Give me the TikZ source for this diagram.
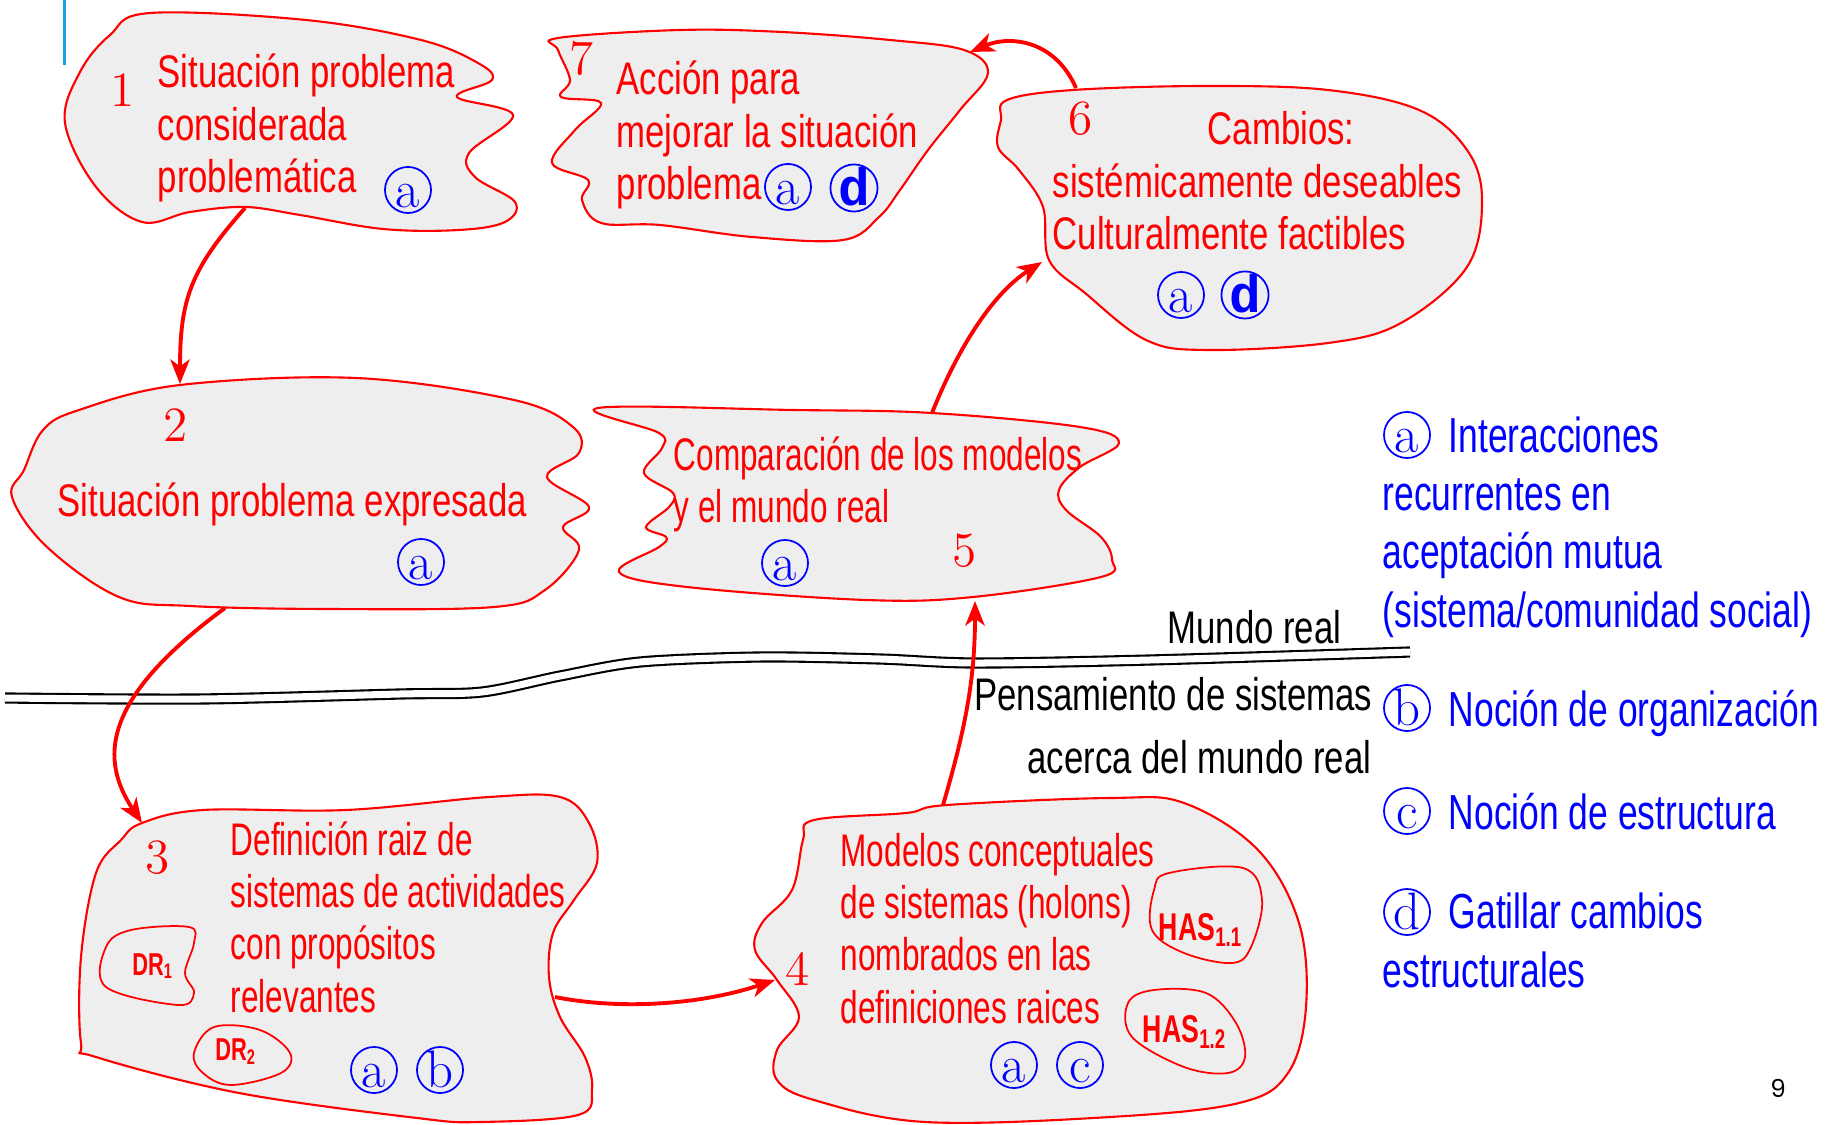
\documentclass[tikz,border=0pt]{standalone}
\usepackage{fontspec}
\newfontfamily\hand[FakeStretch=0.76]{Liberation Sans}
\newfontfamily\handnarrow[FakeStretch=0.69]{Liberation Sans}
\newfontfamily\legendfont[FakeStretch=0.72]{Liberation Sans}
\newfontfamily\monod{Liberation Mono}
\newfontfamily\pagefont{Poppins}
\usetikzlibrary{arrows.meta}
\definecolor{blobgray}{HTML}{EEEEEE}
\definecolor{barblue}{RGB}{27,161,226}

\begin{document}
\begin{tikzpicture}[x=0.01cm, y=-0.01cm,
    blob/.style = {draw=red, fill=blobgray, line width=0.6pt},
    subblob/.style = {draw=red, line width=0.5pt},
    txt/.style = {text=red, font=\fontsize{13}{15}\hand, align=left, inner sep=0pt, anchor=base west},
    txtn/.style = {txt, font=\fontsize{13}{14.8}\handnarrow},
    num/.style = {text=red, font=\fontsize{14}{14}\selectfont, inner sep=0pt, anchor=base},
    circ/.style = {circle, draw=blue, text=blue, line width=0.5pt, inner sep=0pt, minimum size=0.46cm,
                   text height=10pt, text depth=0pt, font=\fontsize{15}{15}\selectfont},
    tag/.style = {text=red, inner sep=0pt, font=\fontsize{#1}{#1}\handnarrow\bfseries},
    flow/.style = {red, line width=1.1pt, -{Stealth[length=7pt, width=5.5pt, inset=2pt]}},
    realm/.style = {font=\fontsize{13}{15}\hand, inner sep=0pt, anchor=base east},
    legend/.style = {text=blue, font=\fontsize{14}{16.5}\legendfont, align=left, inner sep=0pt, anchor=base west},
    divider/.style = {black, line width=0.6pt, double=white, double distance=0.07cm}
  ]
  \useasboundingbox (0,0) rectangle (1843,1125);

  \draw[barblue, line width=0.03cm] (64,0) -- (64,65);

  % blobs
  \draw[blob] plot[smooth cycle, tension=0.6] coordinates {(150,13) (306,20) (421,40) (478,63) (492,80) (457,97)
    (513,115) (469,153) (475,177) (515,202) (505,222) (459,230) (383,229) (300,215) (245,207) (190,212)
    (142,222) (96,187) (65,123) (80,72) (110,35)};
  \draw[blob] plot[smooth cycle, tension=0.6] coordinates {(79,410) (180,385) (356,378) (514,400) (573,427)
    (579,453) (547,477) (589,507) (563,527) (579,550) (545,590) (494,607) (328,609) (190,606) (119,597)
    (47,547) (12,497) (24,470) (43,430)};
  \draw[blob] plot[smooth cycle, tension=0.6] coordinates {(558,38) (680,30) (782,32) (890,40) (964,50)
    (988,73) (960,110) (928,150) (900,190) (879,217) (843,240) (752,237) (660,225) (601,223) (582,200)
    (588,180) (552,163) (575,130) (601,103) (561,97) (570,80) (558,50)};
  \draw[blob] plot[smooth cycle, tension=0.6] coordinates {(1007,100) (1073,90) (1207,86) (1328,90) (1419,110)
    (1467,150) (1482,200) (1467,267) (1401,323) (1328,343) (1207,350) (1146,340) (1085,293) (1049,260)
    (1043,207) (1019,170) (998,147) (1001,120)};
  \draw[blob] plot[smooth cycle, tension=0.6] coordinates {(598,408) (794,410) (932,413) (1080,427) (1119,443)
    (1080,467) (1059,490) (1066,510) (1101,537) (1112,560) (1101,577) (973,597) (866,600) (687,587)
    (619,572) (659,547) (666,537) (646,527) (669,507) (673,493) (644,473) (662,448) (659,433)};
  \draw[blob] plot[smooth cycle, tension=0.6] coordinates {(142,823) (203,810) (346,810) (489,797) (560,797)
    (589,823) (597,863) (574,900) (553,933) (549,977) (560,1017) (585,1057) (592,1090) (578,1115)
    (480,1122) (417,1118) (239,1093) (96,1057) (81,1043) (81,957) (96,873) (121,840)};
  \draw[blob] plot[smooth cycle, tension=0.6] coordinates {(814,820) (906,813) (947,805) (1110,798) (1184,803)
    (1258,850) (1299,923) (1306,1007) (1288,1073) (1239,1103) (1110,1117) (925,1122) (814,1100)
    (777,1080) (777,1050) (799,1017) (777,980) (755,950) (762,923) (792,890) (803,840)};

  \draw[subblob] plot[smooth cycle, tension=0.6] coordinates {(106,947) (131,930) (189,927) (194,943)
    (185,973) (194,993) (178,1005) (106,987)};
  \draw[subblob] plot[smooth cycle, tension=0.6] coordinates {(194,1053) (214,1027) (260,1030) (290,1053)
    (281,1073) (231,1085) (203,1073)};
  \draw[subblob] plot[smooth cycle, tension=0.6] coordinates {(1154,890) (1169,873) (1243,868) (1262,900)
    (1251,947) (1232,963) (1184,953) (1152,930)};
  \draw[subblob] plot[smooth cycle, tension=0.6] coordinates {(1128,1003) (1154,990) (1206,993) (1236,1023)
    (1245,1057) (1228,1073) (1184,1067) (1132,1037)};

  % 1
  \node[num] (n1) at (123,107) {1};
  \node[txt] (t1) at (157,193) {Situación problema\\considerada\\problemática};
  \node[circ] (c1a) at (408,190) {a};
  % 2
  \node[num] (n2) at (176,442) {2};
  \node[txt] (t2) at (57,517) {Situación problema expresada};
  \node[circ] (c2a) at (421,562) {a};
  % 3
  \node[num] (n3) at (158,873) {3};
  \node[txtn] (t3) at (230,1012) {Definición raiz de\\sistemas de actividades\\con propósitos\\relevantes};
  \node[tag=9] (dr1) at (153,966) {DR\textsubscript{1}};
  \node[tag=9] (dr2) at (236,1052) {DR\textsubscript{2}};
  \node[circ] (c3a) at (374,1070) {a};
  \node[circ] (c3b) at (440,1070) {b};
  % 4
  \node[num] (n4) at (798,985) {4};
  \node[txtn] (t4) at (840,1023) {Modelos conceptuales\\de sistemas (holons)\\nombrados en las\\definiciones raices};
  \node[tag=11] (has1) at (1201,930) {HAS\textsubscript{1.1}};
  \node[tag=11] (has2) at (1185,1032) {HAS\textsubscript{1.2}};
  \node[circ] (c4a) at (1014,1065) {a};
  \node[circ] (c4c) at (1080,1065) {c};
  % 5
  \node[txtn] (t5) at (673,523) {Comparación de los modelos\\y el mundo real};
  \node[num] (n5) at (965,567) {5};
  \node[circ] (c5a) at (785,563) {a};
  % 6
  \node[num] (n6) at (1081,135) {6};
  \node[txt] (t6) at (1052,250) {\hspace*{1.55cm}Cambios:\\sistémicamente deseables\\Culturalmente factibles};
  \node[circ] (c6a) at (1181,295) {a};
  \node[circ] (c6d) at (1245,295) {\monod\bfseries d};
  % 7
  \node[num] (n7) at (582,75) {7};
  \node[txt] (t7) at (616,200) {Acción para\\mejorar la situación\\problema};
  \node[circ] (c7a) at (788,187) {a};
  \node[circ] (c7d) at (854,188) {\monod\bfseries d};

  % real world / systems thinking
  \draw[divider] plot[smooth, tension=0.5] coordinates {(5,698) (200,699) (400,694) (482,692) (560,676)
    (640,662) (760,657) (880,659) (975,663) (1150,660) (1410,652)};
  \node[realm] (mundo) at (1342,643) {Mundo real};
  \node[realm] (pens) at (1373,710) {Pensamiento de sistemas};
  \node[realm] (acerca) at (1372,773) {acerca del mundo real};

  % arrows
  \coordinate (b1s) at (245,208);
  \coordinate (b2n) at (180,384);
  \coordinate (b2s) at (225,608);
  \coordinate (b3n) at (142,823);
  \coordinate (b3e) at (555,997);
  \coordinate (b4w) at (775,980);
  \coordinate (b4n) at (943,805);
  \coordinate (b5s) at (975,601);
  \coordinate (b5n) at (932,413);
  \coordinate (b6w) at (1042,262);
  \coordinate (b6n) at (1076,88);
  \coordinate (b7e) at (970,52);
  \draw[flow] (b1s) .. controls (190,270) and (180,300) .. (b2n);
  \draw[flow] (b2s) .. controls (100,700) and (100,760) .. (b3n);
  \draw[flow] (b3e) .. controls (620,1010) and (700,1005) .. (b4w);
  \draw[flow] (b4n) .. controls (965,730) and (975,680) .. (b5s);
  \draw[flow] (b5n) .. controls (955,355) and (990,295) .. (b6w);
  \draw[flow] (b6n) .. controls (1055,40) and (1010,35) .. (b7e);

  % legend
  \node[circ] (la) at (1407,435) {a};
  \node[legend] (lta) at (1382,627) {\hspace*{0.66cm}Interacciones\\recurrentes en\\aceptación mutua\\(sistema/comunidad social)};
  \node[circ] (lb) at (1407,708) {b};
  \node[legend] (ltb) at (1448,726) {Noción de organización};
  \node[circ] (lc) at (1407,811) {c};
  \node[legend] (ltc) at (1448,829) {Noción de estructura};
  \node[circ] (ld) at (1407,912) {d};
  \node[legend] (ltd) at (1382,987) {\hspace*{0.66cm}Gatillar cambios\\estructurales};

  \node[font=\fontsize{7}{7}\pagefont, inner sep=0pt] (pg) at (1778,1088) {9};
\end{tikzpicture}
\end{document}
